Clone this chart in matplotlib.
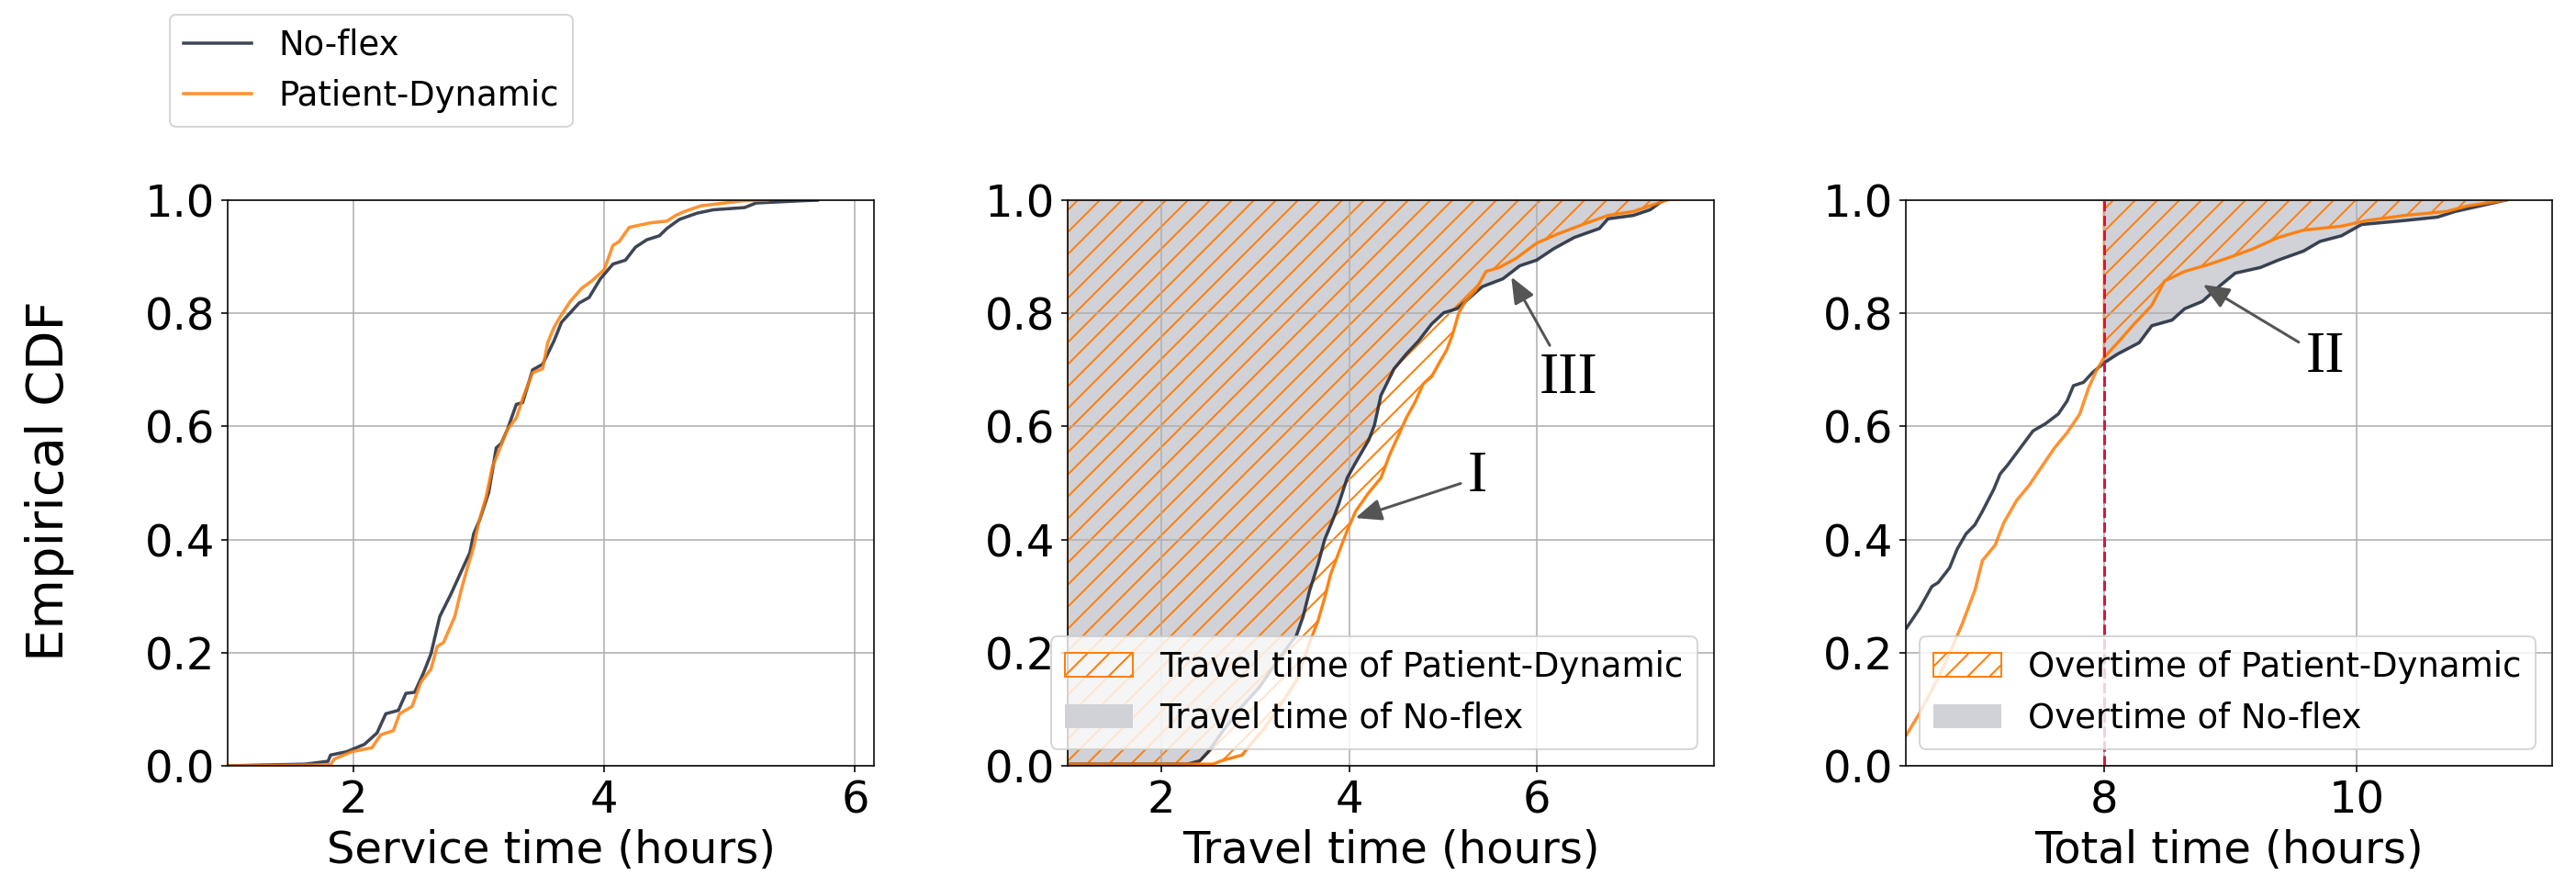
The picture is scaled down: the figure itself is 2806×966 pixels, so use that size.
import numpy as np
import matplotlib.pyplot as plt

# ECDF curves: (hours, cumulative share)
service_noflex_x = [1.0, 1.62, 1.80, 1.82, 1.95, 2.09, 2.19, 2.26, 2.36, 2.42, 2.49, 2.56, 2.62, 2.69,
                    2.78, 2.86, 2.93, 2.96, 3.01, 3.08, 3.14, 3.18, 3.23, 3.30, 3.35, 3.43, 3.51, 3.60,
                    3.66, 3.73, 3.80, 3.88, 3.97, 4.07, 4.17, 4.25, 4.34, 4.44, 4.50, 4.60, 4.74, 4.87,
                    5.12, 5.21, 5.58, 5.70]
service_noflex_p = [0.0, 0.003, 0.008, 0.019, 0.025, 0.038, 0.058, 0.092, 0.098, 0.128, 0.130, 0.164,
                    0.198, 0.264, 0.304, 0.343, 0.377, 0.410, 0.436, 0.483, 0.562, 0.570, 0.595, 0.639,
                    0.642, 0.700, 0.710, 0.751, 0.784, 0.801, 0.818, 0.828, 0.861, 0.887, 0.894, 0.917,
                    0.930, 0.937, 0.950, 0.966, 0.977, 0.983, 0.987, 0.995, 0.999, 1.0]
service_pd_x = [1.0, 1.82, 1.85, 1.99, 2.15, 2.22, 2.32, 2.37, 2.47, 2.54, 2.62, 2.67, 2.72, 2.81, 2.86,
                2.91, 2.96, 3.00, 3.06, 3.11, 3.16, 3.23, 3.30, 3.36, 3.43, 3.51, 3.55, 3.60, 3.65, 3.73,
                3.82, 3.90, 4.00, 4.07, 4.12, 4.20, 4.37, 4.50, 4.57, 4.64, 4.77, 5.11, 5.30]
service_pd_p = [0.0, 0.002, 0.012, 0.025, 0.032, 0.055, 0.062, 0.092, 0.105, 0.148, 0.171, 0.211, 0.218,
                0.264, 0.310, 0.350, 0.387, 0.430, 0.476, 0.529, 0.556, 0.595, 0.615, 0.655, 0.695, 0.702,
                0.748, 0.775, 0.794, 0.821, 0.844, 0.857, 0.877, 0.920, 0.927, 0.952, 0.960, 0.963, 0.973,
                0.980, 0.990, 0.999, 1.0]

travel_noflex_x = [1.0, 2.28, 2.41, 2.50, 2.64, 2.82, 3.04, 3.26, 3.44, 3.51, 3.58, 3.67, 3.74, 3.83,
                   3.89, 3.98, 4.07, 4.21, 4.27, 4.34, 4.48, 4.61, 4.74, 4.88, 5.01, 5.15, 5.24, 5.42,
                   5.64, 5.82, 6.00, 6.18, 6.40, 6.67, 6.76, 7.03, 7.21, 7.35]
travel_noflex_p = [0.003, 0.003, 0.009, 0.025, 0.058, 0.098, 0.138, 0.191, 0.231, 0.264, 0.310, 0.357,
                   0.400, 0.436, 0.463, 0.509, 0.536, 0.576, 0.602, 0.655, 0.702, 0.728, 0.751, 0.781,
                   0.801, 0.808, 0.821, 0.847, 0.861, 0.884, 0.894, 0.914, 0.934, 0.950, 0.967, 0.973,
                   0.983, 1.0]
travel_pd_x = [1.0, 2.55, 2.64, 2.86, 2.95, 3.09, 3.26, 3.44, 3.58, 3.67, 3.74, 3.80, 3.89, 3.98, 4.07,
               4.21, 4.34, 4.43, 4.52, 4.61, 4.70, 4.79, 4.88, 4.97, 5.04, 5.10, 5.17, 5.24, 5.35, 5.46,
               5.60, 5.78, 6.00, 6.22, 6.54, 6.76, 7.03, 7.26, 7.39]
travel_pd_p = [0.003, 0.003, 0.009, 0.019, 0.038, 0.065, 0.105, 0.151, 0.218, 0.257, 0.297, 0.337, 0.377,
               0.416, 0.450, 0.483, 0.509, 0.549, 0.582, 0.615, 0.642, 0.675, 0.688, 0.715, 0.735, 0.761,
               0.801, 0.821, 0.841, 0.874, 0.881, 0.897, 0.924, 0.940, 0.960, 0.973, 0.980, 0.993, 1.0]

total_noflex_x = [6.44, 6.48, 6.54, 6.64, 6.69, 6.78, 6.84, 6.91, 6.98, 7.04, 7.13, 7.18, 7.24, 7.34,
                  7.44, 7.54, 7.64, 7.71, 7.76, 7.84, 7.91, 8.00, 8.11, 8.28, 8.38, 8.54, 8.64, 8.78,
                  8.91, 9.04, 9.24, 9.38, 9.58, 9.71, 9.88, 10.04, 10.38, 10.64, 10.78, 11.04, 11.18]
total_noflex_p = [0.244, 0.257, 0.277, 0.317, 0.324, 0.350, 0.383, 0.410, 0.426, 0.450, 0.489, 0.516,
                  0.532, 0.562, 0.592, 0.605, 0.622, 0.645, 0.672, 0.678, 0.695, 0.712, 0.728, 0.748,
                  0.778, 0.788, 0.808, 0.821, 0.847, 0.871, 0.881, 0.894, 0.910, 0.927, 0.937, 0.957,
                  0.964, 0.970, 0.980, 0.993, 1.0]
total_pd_x = [6.44, 6.54, 6.68, 6.78, 6.88, 6.98, 7.04, 7.14, 7.21, 7.31, 7.41, 7.51, 7.61, 7.71, 7.81,
              7.88, 7.94, 8.00, 8.11, 8.24, 8.38, 8.48, 8.64, 8.84, 9.01, 9.18, 9.38, 9.58, 9.88, 10.08,
              10.38, 10.71, 10.88, 11.18]
total_pd_p = [0.055, 0.092, 0.151, 0.198, 0.251, 0.310, 0.363, 0.390, 0.430, 0.469, 0.496, 0.529, 0.562,
              0.589, 0.622, 0.668, 0.698, 0.721, 0.748, 0.781, 0.814, 0.857, 0.874, 0.887, 0.900, 0.914,
              0.934, 0.947, 0.954, 0.964, 0.973, 0.980, 0.990, 1.0]

shift_end = 8  # hours, start of overtime

NAVY = '#1c2638'
ORANGE = 'tab:orange'
GRAY = '#d0d2d7'

fig = plt.figure(figsize=(2806 / 144, 966 / 144), dpi=144)
W, H = 2806, 966
lefts = [248, 1163, 2076]
axes = [fig.add_axes([l / W, 1 - 834 / H, 704 / W, 616 / H]) for l in lefts]


def draw_curves(ax, xn, pn, xp, pp):
    ln, = ax.plot(xn, pn, color=NAVY, lw=1.75, alpha=0.85, label='No-flex')
    lp, = ax.plot(xp, pp, color=ORANGE, lw=1.75, alpha=0.85, label='Patient-Dynamic')
    return ln, lp


ax1, ax2, ax3 = axes

ln, lp = draw_curves(ax1, service_noflex_x, service_noflex_p, service_pd_x, service_pd_p)
ax1.set_xlim(1.0, 6.15)
ax1.set_xticks([2, 4, 6])
ax1.set_xlabel('Service time (hours)', fontsize=24)

# travel time panel: areas to the left of each curve
gray2 = ax2.fill_betweenx(travel_noflex_p, 1.0, travel_noflex_x, color=GRAY, lw=0)
hatch2 = ax2.fill_betweenx(travel_pd_p, 1.0, travel_pd_x, facecolor='none',
                           edgecolor=ORANGE, hatch='//', lw=1)
draw_curves(ax2, travel_noflex_x, travel_noflex_p, travel_pd_x, travel_pd_p)
ax2.set_xlim(1.0, 7.89)
ax2.set_xticks([2, 4, 6])
ax2.set_xlabel('Travel time (hours)', fontsize=24)
ax2.legend([hatch2, gray2], ['Travel time of Patient-Dynamic', 'Travel time of No-flex'],
           loc='lower right', fontsize=18.5)

# total time panel: overtime beyond 8 hours
tn_x = np.array(total_noflex_x)
tp_x = np.array(total_pd_x)
gray3 = ax3.fill_betweenx(total_noflex_p, shift_end, tn_x, where=tn_x >= shift_end,
                          color=GRAY, lw=0)
hatch3 = ax3.fill_betweenx(total_pd_p, shift_end, tp_x, where=tp_x >= shift_end,
                           facecolor='none', edgecolor=ORANGE, hatch='//', lw=1)
draw_curves(ax3, total_noflex_x, total_noflex_p, total_pd_x, total_pd_p)
ax3.axvline(shift_end, color='crimson', ls='--', lw=1.5)
ax3.set_xlim(6.434, 11.547)
ax3.set_xticks([8, 10])
ax3.set_xlabel('Total time (hours)', fontsize=24)
ax3.legend([hatch3, gray3], ['Overtime of Patient-Dynamic', 'Overtime of No-flex'],
           loc='lower right', fontsize=18.5)

for ax in axes:
    ax.set_ylim(0, 1)
    ax.set_yticks([0, 0.2, 0.4, 0.6, 0.8, 1.0])
    ax.tick_params(labelsize=24)
    ax.grid(True)

arrow = dict(arrowstyle='-|>,head_length=0.6,head_width=0.25', color='#555555',
             lw=1.5, mutation_scale=20)
roman = dict(fontsize=32, family='Liberation Serif', ha='center', va='center')
ax2.annotate('I', xy=(4.03, 0.436), xytext=(5.37, 0.509), arrowprops=arrow, **roman)
ax2.annotate('III', xy=(5.71, 0.87), xytext=(6.34, 0.684), arrowprops=arrow, **roman)
ax3.annotate('II', xy=(8.76, 0.854), xytext=(9.75, 0.721), arrowprops=arrow, **roman)

fig.text(54 / W, 0.458, 'Empirical CDF', rotation=90, ha='center', va='center', fontsize=28)

fig.legend([ln, lp], ['No-flex', 'Patient-Dynamic'], loc='upper left',
           bbox_to_anchor=(185 / W, 1 - 16 / H), borderaxespad=0, fontsize=18.5)

fig.savefig('out.png', dpi=144)
